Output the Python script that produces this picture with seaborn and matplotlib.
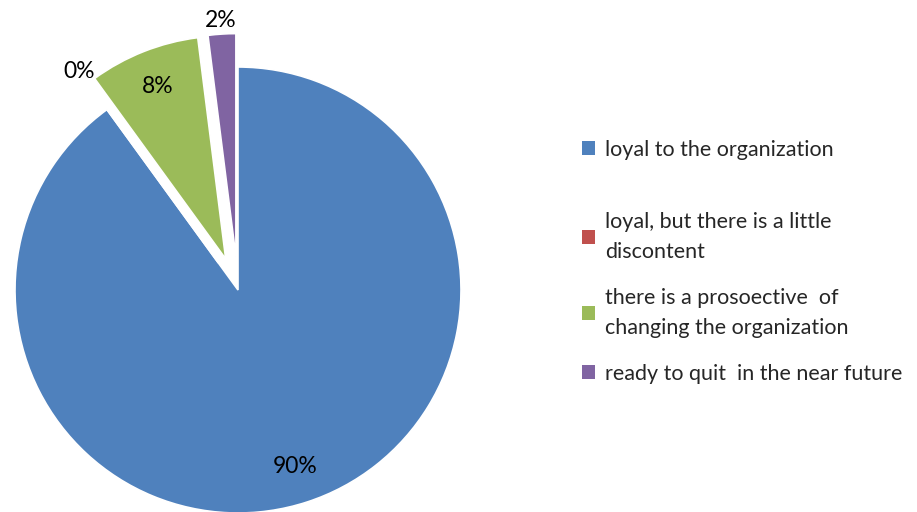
import matplotlib
matplotlib.use("Agg")
import matplotlib.pyplot as plt
import seaborn as sns
import numpy as np
from matplotlib.patches import Patch

categories = [
    "loyal to the organization",
    "loyal, but there is a little\ndiscontent",
    "there is a prosoective  of\nchanging the organization",
    "ready to quit  in the near future",
]
values = [90, 0, 8, 2]
pct_labels = ["90%", "0%", "8%", "2%"]
colors = ["#4F81BD", "#C0504D", "#9BBB59", "#8064A2"]
explode = [0, 0.15, 0.15, 0.15]

sns.set_theme(style="white")
plt.rcParams["font.family"] = ["Lato", "DejaVu Sans"]

W, H = 917, 512
fig = plt.figure(figsize=(W / 100, H / 100), dpi=100)
ax = fig.add_axes([0, 0, 1, 1])

cx, cy, R = 238, 290, 223  # pixel layout of pie
wedges, _ = ax.pie(values, colors=colors, explode=explode, startangle=90,
                   counterclock=False, radius=1,
                   wedgeprops=dict(edgecolor="white", linewidth=1.2))
ax.set_xlim(-cx / R, (W - cx) / R)
ax.set_ylim(-(H - cy) / R, cy / R)
ax.set_aspect("equal")
ax.axis("off")

# percentage labels: inside for large slices, outside for small ones
for w, lab, v in zip(wedges, pct_labels, values):
    th = np.deg2rad((w.theta1 + w.theta2) / 2)
    d = 0.83 if v >= 5 else 1.06
    x = w.center[0] + d * np.cos(th)
    y = w.center[1] + d * np.sin(th)
    ax.text(x, y, lab, ha="center", va="center", fontsize=16.5, color="black")

# legend entries
leg_y = [150, 237, 313, 374]
for w, lab, col, yy in zip(wedges, categories, colors, leg_y):
    lg = fig.legend(handles=[Patch(facecolor=col, edgecolor="none")], labels=[lab],
                    loc="center left", bbox_to_anchor=(582 / W, 1 - yy / H),
                    frameon=False, fontsize=15.5, handlelength=0.62, handleheight=0.62,
                    handletextpad=0.45, borderpad=0, borderaxespad=0)
    for t in lg.get_texts():
        t.set_linespacing(1.6)

fig.savefig("out.png", dpi=100)
